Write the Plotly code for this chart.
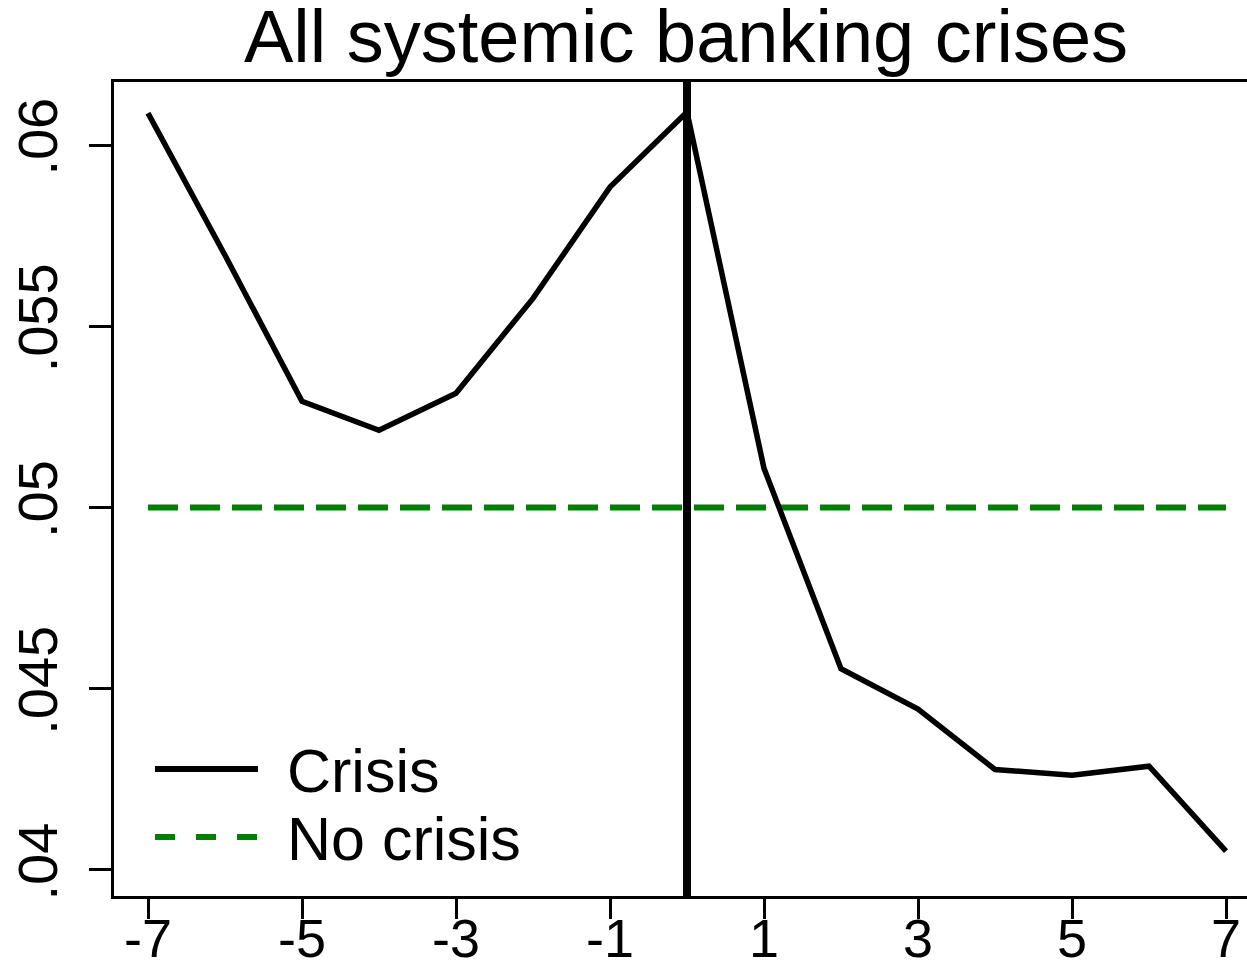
import plotly.graph_objects as go

years = [-7, -6, -5, -4, -3, -2, -1, 0, 1, 2, 3, 4, 5, 6, 7]
crisis = [0.06088, 0.05696, 0.05293, 0.05213, 0.05315, 0.05577, 0.05884, 0.06091,
          0.05108, 0.04555, 0.04444, 0.04277, 0.04261, 0.04286, 0.04052]
no_crisis = [0.05] * len(years)
x_ticks = [-7, -5, -3, -1, 1, 3, 5, 7]
x_tick_labels = ["-7", "-5", "-3", "-1", "1", "3", "5", "7"]
y_ticks = [0.04, 0.045, 0.05, 0.055, 0.06]
y_tick_labels = [".04", ".045", ".05", ".055", ".06"]
title = "All systemic banking crises"
legend_labels = ["Crisis", "No crisis"]

FONT = "Arial, Liberation Sans, sans-serif"

fig = go.Figure()
fig.add_trace(go.Scatter(x=years, y=no_crisis, mode="lines", name=legend_labels[1],
                         line=dict(color="#008000", width=6, dash="30px,12px")))
fig.add_trace(go.Scatter(x=years, y=crisis, mode="lines", name=legend_labels[0],
                         line=dict(color="black", width=5.5)))

# vertical line at event year 0
fig.add_shape(type="line", xref="x", yref="paper", x0=0, x1=0, y0=0, y1=1,
              line=dict(color="black", width=8), layer="above")

# manual legend (inside plot, bottom-left)
W, H = 1247, 963
ml, mt, mb, mr = 114, 82, 67, 0
pw, ph = W - ml - mr, H - mt - mb

def px_x(px):
    return (px - ml) / pw

def px_y(py):
    return 1 - (py - mt) / ph

fig.add_shape(type="line", xref="paper", yref="paper",
              x0=px_x(155), x1=px_x(258), y0=px_y(769), y1=px_y(769),
              line=dict(color="black", width=6))
fig.add_shape(type="line", xref="paper", yref="paper",
              x0=px_x(155), x1=px_x(258), y0=px_y(837), y1=px_y(837),
              line=dict(color="#008000", width=6, dash="20px,21px"))
fig.add_annotation(xref="paper", yref="paper", x=px_x(285), y=px_y(771),
                   text=legend_labels[0], showarrow=False, xanchor="left", yanchor="middle",
                   font=dict(family=FONT, size=61, color="black"))
fig.add_annotation(xref="paper", yref="paper", x=px_x(285), y=px_y(839),
                   text=legend_labels[1], showarrow=False, xanchor="left", yanchor="middle",
                   font=dict(family=FONT, size=61, color="black"))

fig.update_layout(
    width=W, height=H,
    margin=dict(l=ml, r=mr, t=mt, b=mb, pad=0, autoexpand=False),
    paper_bgcolor="white", plot_bgcolor="white",
    showlegend=False,
    title=dict(text=title, x=(686 - ml) / pw, xref="paper", xanchor="center",
               y=1 - 36 / H, yref="container", yanchor="middle", automargin=False,
               font=dict(family=FONT, size=74, color="black")),
    font=dict(family=FONT, color="black"),
)
fig.update_xaxes(range=[-7 - 34 / 77, 7 + 21 / 77], tickvals=x_ticks, ticktext=x_tick_labels,
                 showgrid=False, zeroline=False, showline=True, linecolor="black", linewidth=3,
                 mirror=True, ticks="outside", ticklen=20, tickwidth=3, tickcolor="black",
                 automargin=False, ticklabelstandoff=-27,
                 tickfont=dict(family=FONT, size=54, color="black"))
fig.update_yaxes(range=[0.03928, 0.06174], tickvals=y_ticks, ticktext=y_tick_labels,
                 showgrid=False, zeroline=False, showline=True, linecolor="black", linewidth=3,
                 mirror=False, ticks="outside", ticklen=22, tickwidth=3, tickcolor="black",
                 tickangle=-90, ticklabelstandoff=10, automargin=False,
                 tickfont=dict(family=FONT, size=56, color="black"))

fig.write_html("out.html")
